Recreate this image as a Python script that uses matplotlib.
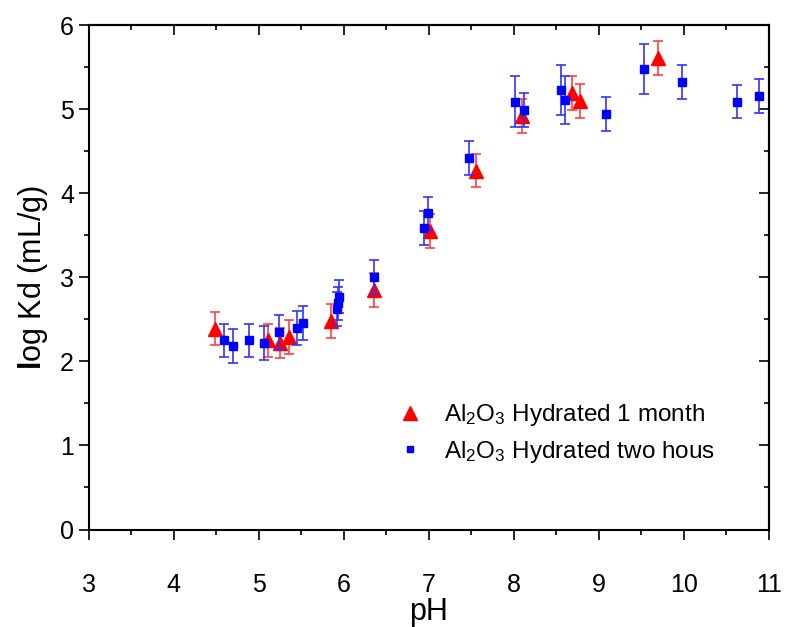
import matplotlib
matplotlib.use("Agg")
import matplotlib.pyplot as plt
from matplotlib.lines import Line2D
from matplotlib.ticker import MultipleLocator

plt.rcParams["font.family"] = ["Liberation Sans", "DejaVu Sans"]
plt.rcParams["mathtext.fontset"] = "custom"
plt.rcParams["mathtext.rm"] = "Liberation Sans"
plt.rcParams["mathtext.it"] = "Liberation Sans:italic"
plt.rcParams["mathtext.bf"] = "Liberation Sans:bold"

# Al2O3 hydrated for 1 month
ph_month = [4.49, 5.11, 5.25, 5.36, 5.85, 6.36, 7.02, 7.56, 8.10, 8.69, 8.78, 9.70]
kd_month = [2.39, 2.25, 2.22, 2.29, 2.48, 2.85, 3.55, 4.27, 4.92, 5.19, 5.10, 5.61]
err_month = [0.20, 0.20, 0.18, 0.20, 0.20, 0.20, 0.20, 0.20, 0.20, 0.20, 0.20, 0.20]

# Al2O3 hydrated for two hours
ph_hours = [4.59, 4.70, 4.89, 5.06, 5.24, 5.45, 5.52, 5.92, 5.93, 5.94, 6.36, 6.94,
            6.99, 7.47, 8.02, 8.12, 8.56, 8.60, 9.08, 9.53, 9.98, 10.62, 10.88]
kd_hours = [2.25, 2.18, 2.25, 2.22, 2.35, 2.40, 2.46, 2.62, 2.69, 2.77, 3.00, 3.59,
            3.76, 4.42, 5.09, 4.99, 5.23, 5.11, 4.94, 5.48, 5.32, 5.09, 5.16]
err_hours = [0.20, 0.20, 0.20, 0.20, 0.20, 0.20, 0.20, 0.20, 0.20, 0.20, 0.20, 0.20,
             0.20, 0.20, 0.30, 0.20, 0.30, 0.29, 0.20, 0.30, 0.20, 0.20, 0.20]

labels = [r"Al$_2$O$_3$ Hydrated 1 month", r"Al$_2$O$_3$ Hydrated two hous"]

fig = plt.figure(figsize=(7.87, 6.27), dpi=100)
ax = fig.add_axes([0.1125, 0.1555, 0.8645, 0.8045])

ax.errorbar(ph_month, kd_month, yerr=err_month, fmt="^", color="#ff0000",
            ms=10, ecolor="#ff4040", elinewidth=1.2, capsize=3.4, capthick=1.2,
            zorder=3)
ax.errorbar(ph_hours, kd_hours, yerr=err_hours, fmt="s", color="#0000ff",
            ms=6, ecolor="#3333ff", elinewidth=1.2, capsize=3.6, capthick=1.2,
            zorder=4)

ax.set_xlim(3, 11)
ax.set_ylim(0, 6)
ax.xaxis.set_major_locator(MultipleLocator(1))
ax.xaxis.set_minor_locator(MultipleLocator(0.5))
ax.yaxis.set_major_locator(MultipleLocator(1))
ax.yaxis.set_minor_locator(MultipleLocator(0.5))

for sp in ax.spines.values():
    sp.set_linewidth(1.5)

ax.tick_params(which="both", direction="out", top=False, right=False,
               labelsize=18, width=1.2)
ax.tick_params(which="major", length=7)
ax.tick_params(which="minor", length=3.5)
ax.tick_params(axis="x", which="major", pad=24)

# mirrored axes on top and right with inward ticks
top = ax.secondary_xaxis("top")
top.xaxis.set_major_locator(MultipleLocator(1))
top.xaxis.set_minor_locator(MultipleLocator(0.5))
top.tick_params(which="both", direction="in", labeltop=False, width=1.2)
top.tick_params(which="major", length=7)
top.tick_params(which="minor", length=3.5)
top.spines["top"].set_linewidth(1.5)

right = ax.secondary_yaxis("right")
right.yaxis.set_major_locator(MultipleLocator(1))
right.yaxis.set_minor_locator(MultipleLocator(0.5))
right.tick_params(which="both", direction="in", labelright=False, width=1.2)
right.tick_params(which="major", length=7)
right.tick_params(which="minor", length=3.5)
right.spines["right"].set_linewidth(1.5)

ax.set_xlabel("pH", fontsize=22, labelpad=0)
ax.set_ylabel(r"$\mathbf{l}$og Kd (mL/g)", fontsize=22, labelpad=7)

# legend shows the markers only, without the error bars
handles = [
    Line2D([], [], ls="none", marker="^", color="#ff0000", ms=10),
    Line2D([], [], ls="none", marker="s", color="#0000ff", ms=5),
]
ax.legend(handles, labels, loc="upper left", bbox_to_anchor=(0.437, 0.272),
          frameon=False, fontsize=17.5, handletextpad=0.8, labelspacing=0.45,
          handlelength=1.2, borderaxespad=0)

fig.savefig("out.png", dpi=100)
